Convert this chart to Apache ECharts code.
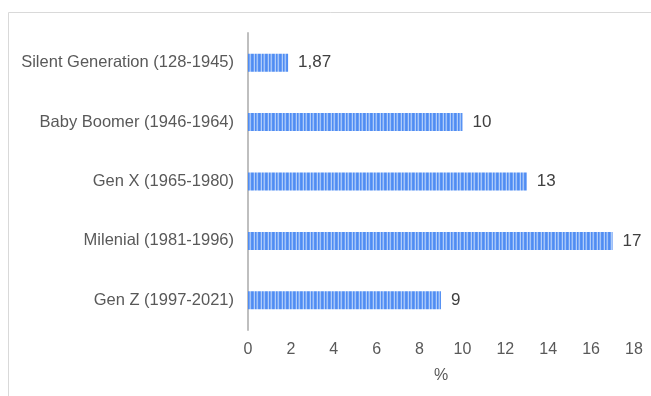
<!DOCTYPE html>
<html>
<head>
<meta charset="utf-8">
<script src="https://cdn.jsdelivr.net/npm/echarts@6/dist/echarts.min.js"></script>
<style>
  html, body { margin: 0; padding: 0; background: #ffffff; }
  #chart { width: 651px; height: 396px; }
</style>
</head>
<body>
<div id="chart"></div>
<script>
// Generations, listed bottom to top as the category axis draws them
const categories = [
  'Gen Z (1997-2021)',
  'Milenial (1981-1996)',
  'Gen X (1965-1980)',
  'Baby Boomer (1946-1964)',
  'Silent Generation (128-1945)'
];
const shares = [9, 17, 13, 10, 1.87];
const shareLabels = ['9', '17', '13', '10', '1,87'];
const xTicks = [0, 2, 4, 6, 8, 10, 12, 14, 16, 18];

// Vertical pinstripe fill for the bars
function stripeFill() {
  const c = document.createElement('canvas');
  c.width = 7; c.height = 4;
  const ctx = c.getContext('2d');
  const cols = ['#4f8cf3', '#6a9ef5', '#b0cdf9', '#4f8cf3', '#78a7f6', '#a3c4f8', '#5792f3'];
  cols.forEach((col, i) => { ctx.fillStyle = col; ctx.fillRect(i, 0, 1, 4); });
  return { image: c, repeat: 'repeat' };
}

const chart = echarts.init(document.getElementById('chart'), null, { renderer: 'canvas' });
const font = '"Liberation Sans", Arial, sans-serif';

chart.setOption({
  animation: false,
  textStyle: { fontFamily: font },
  graphic: [{
    type: 'rect',
    shape: { x: 8.5, y: 12.5, width: 700, height: 500 },
    style: { fill: 'none', stroke: '#d9d9d9', lineWidth: 1 },
    silent: true
  }],
  grid: { left: 248, right: 17, top: 33, bottom: 66, containLabel: false },
  xAxis: {
    type: 'value',
    min: xTicks[0],
    max: xTicks[xTicks.length - 1],
    interval: 2,
    name: '%',
    nameLocation: 'middle',
    nameGap: 38,
    nameTextStyle: { color: '#595959', fontSize: 16, fontFamily: font },
    axisLine: { show: false },
    axisTick: { show: false },
    splitLine: { show: false },
    axisLabel: { color: '#595959', fontSize: 16, margin: 12, fontFamily: font }
  },
  yAxis: {
    type: 'category',
    data: categories,
    axisLine: { show: true, lineStyle: { color: '#bfbfbf', width: 2 } },
    axisTick: { show: false },
    axisLabel: { color: '#595959', fontSize: 16.5, margin: 14, padding: [2, 0, 0, 0], fontFamily: font }
  },
  series: [{
    type: 'bar',
    data: shares,
    barWidth: 18,
    itemStyle: { color: stripeFill() },
    label: {
      show: true,
      position: 'right',
      distance: 10,
      color: '#404040',
      fontSize: 17,
      fontFamily: font,
      padding: [2, 0, 0, 0],
      formatter: p => shareLabels[p.dataIndex]
    }
  }]
});
</script>
</body>
</html>
